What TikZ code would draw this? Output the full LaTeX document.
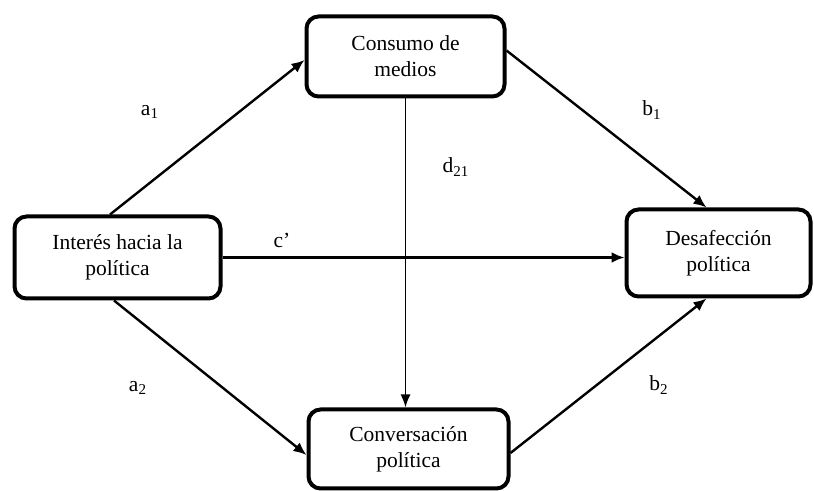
\documentclass[tikz,border=0pt]{standalone}
\usepackage{fontspec}
\setmainfont{Liberation Serif}
\usetikzlibrary{arrows.meta}
\usetikzlibrary{positioning}

\begin{document}
\begin{tikzpicture}[x=0.5pt,y=-0.5pt,
    caja/.style={draw,line width=2pt,rounded corners=6pt,align=center,
        inner sep=0pt,font=\fontsize{10.75}{13}\selectfont},
    flecha/.style={line width=1.2pt,-{Latex[length=6.5pt,width=5.5pt]}},
    etiq/.style={font=\fontsize{10.75}{13}\selectfont}]
\useasboundingbox (0,0) rectangle (814,491);

% variables
\node[caja,minimum width=99pt,minimum height=40pt] (cons) at (405.5,56.5) {Consumo de\\medios};
\node[caja,minimum width=103pt,minimum height=41pt] (int) at (117.5,257.5) {Interés hacia la\\política};
\node[caja,minimum width=92pt,minimum height=43.5pt] (des) at (718.5,253) {Desafección\\política};
\node[caja,minimum width=100pt,minimum height=39.5pt] (conv) at (408.5,449) {Conversación\\política};

% trayectorias
\draw[flecha] ([xshift=-3.75pt]int.north) -- ([yshift=-1.75pt]cons.west);
\draw[flecha] ([yshift=3pt]cons.east) -- ([xshift=-6pt]des.north);
\draw[flecha] (int.east) -- (int.east -| des.west);
\draw[flecha] ([xshift=-1.75pt]int.south) -- ([yshift=-3pt]conv.west);
\draw[flecha] ([yshift=-2pt]conv.east) -- ([xshift=-6pt]des.south);
\draw[line width=0.85pt,-{Latex[length=6.5pt,width=5pt]}] (cons.south) -- (cons.south |- conv.north);

% coeficientes
\node[etiq] (la1) at (150,112) {a\textsubscript{1}};
\node[etiq] (lb1) at (652,110) {b\textsubscript{1}};
\node[etiq] (ld) at (456,167) {d\textsubscript{21}};
\node[etiq] (lc) at (282,240) {c’};
\node[etiq] (la2) at (138,388) {a\textsubscript{2}};
\node[etiq] (lb2) at (659,385) {b\textsubscript{2}};
\end{tikzpicture}
\end{document}
